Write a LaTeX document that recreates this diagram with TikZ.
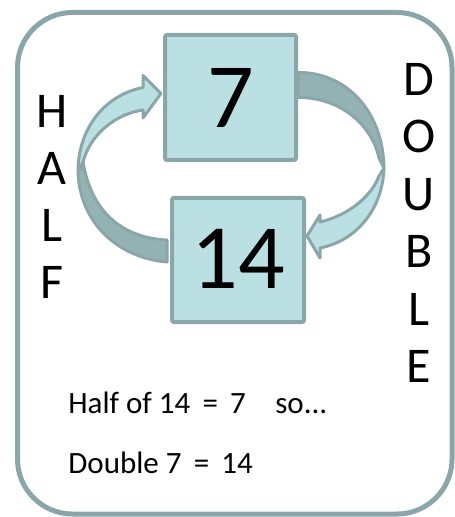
\documentclass[tikz,border=0pt]{standalone}
\usepackage{fontspec}
\setmainfont{Carlito}
\usetikzlibrary{calc,backgrounds}
\definecolor{rim}{HTML}{8BA6A9}
\definecolor{boxfill}{HTML}{BBE0E3}
\definecolor{bandshade}{HTML}{93B2B4}

\begin{document}
\begin{tikzpicture}[x=0.5pt,y=-0.5pt,
  numbox/.style={draw=rim,fill=boxfill,line width=2pt,rounded corners=1pt,inner sep=0pt,font=\fontsize{46}{46}\selectfont},
  band/.style={draw=rim,line width=1.5pt,line join=round,fill=boxfill},
  bandback/.style={band,fill=bandshade},
  bigletter/.style={font=\fontsize{25}{30}\selectfont},
  sumline/.style={anchor=base west,inner sep=0pt,font=\fontsize{15.5}{18}\selectfont}]
  \useasboundingbox (0,0) rectangle (454,517);
  % card frame
  \draw[rim,line width=2.5pt,rounded corners=27.5pt] (17.5,12.5) rectangle (452,514);
  % the two number boxes
  \node[numbox,minimum width=65.5pt,minimum height=62.5pt] (n7) at (230.5,97.5) {7};
  \node[numbox,minimum width=66pt,minimum height=62pt] (n14) at (238,260) {\raisebox{1.5pt}{14}};
  % side words, one letter per line
  \foreach \l [count=\i] in {H,A,L,F}
    \node[bigletter] (half\i) at (52,53.7+57.3*\i) {\l};
  \foreach \l [count=\i] in {D,O,U,B,L,E}
    \node[bigletter] (dbl\i) at (419,22+57.4*\i) {\l};
  % sums under the boxes
  \node[sumline] (sumhalf) at (68,413) {Half of 14 \,=\, 7 \enspace\ so...};
  \node[sumline] (sumdouble) at (68,473) {Double 7 \,=\, 14};
  % curved ribbons behind the boxes
  \begin{scope}[on background layer]
    % HALF: 14 -> 7, back face first
    \draw[bandback] (78,172) .. controls (80,225) and (120,258) .. ($(n14.west)+(-3,2)$)
      -- ++(0,-22) .. controls (125,238) and (92,215) .. (83,162) -- cycle;
    \draw[band] ($(n7.west)+(-2,-4)$) -- ++(-18,-18) -- ++(0,12)
      .. controls (105,95) and (78,128) .. (78,172)
      -- (83,162) .. controls (90,135) and (115,114) .. (143,110)
      -- (143,118) -- cycle;
    % DOUBLE: 7 -> 14
    \draw[bandback] ($(n7.east)+(0,-25)$) .. controls (345,72) and (383,110) .. (384,168)
      -- (379,158) .. controls (372,125) and (340,97) .. (n7.east) -- cycle;
    \draw[band] ($(n14.east)+(1,-24)$) -- ++(13,-21) -- ++(0,7)
      .. controls (350,215) and (372,195) .. (379,176)
      -- (384,168) .. controls (383,205) and (360,240) .. (320,248)
      -- (320,258) -- cycle;
  \end{scope}
\end{tikzpicture}
\end{document}
